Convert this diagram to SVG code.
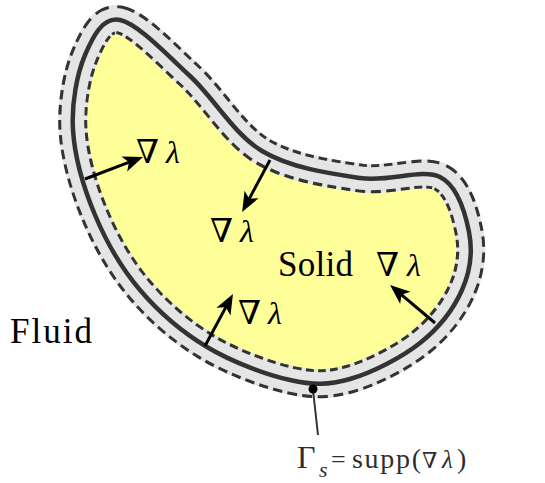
<svg xmlns="http://www.w3.org/2000/svg" width="545" height="483" viewBox="0 0 545 483">
  <defs>
    <path id="boundary" d="M120,20 C137.5,23.5 166.3,54.2 190,76 C213.7,97.8 233.7,134 262,151 C290.3,168 330.3,173.7 360,178 C389.7,182.3 421.8,168 440,177 C458.2,186 465.3,213.2 469,232 C472.7,250.8 470.2,271.5 462,290 C453.8,308.5 438.7,328.2 420,343 C401.3,357.8 371.7,372.8 350,379 C328.3,385.2 313.8,385.3 290,380 C266.2,374.7 232,362 207,347 C182,332 158.7,312 140,290 C121.3,268 106.2,241.7 95,215 C83.8,188.3 74.7,156.7 73,130 C71.3,103.3 77.2,73.3 85,55 C92.8,36.7 102.5,16.5 120,20 Z"/>
    <marker id="arrowhead" markerUnits="userSpaceOnUse" orient="auto" viewBox="-21 -9 22 18" markerWidth="22" markerHeight="18" refX="-9" refY="0">
      <path d="M0,0 L-20,-8 L-15,0 L-20,8 Z" fill="#000"/>
    </marker>
    <style>
      .lbl { font-family: "Liberation Serif", "DejaVu Serif", serif; fill: #000; }
      .nabla { font-family: "DejaVu Serif", "Liberation Serif", serif; font-size: 33px; fill: #000; }
      .lam { font-family: "Liberation Serif", "DejaVu Serif", serif; font-style: italic; font-size: 32px; fill: #000; }
      .arrow { stroke: #000; stroke-width: 3; fill: none; marker-end: url(#arrowhead); }
      .gm { font-family: "Liberation Serif", "DejaVu Serif", serif; fill: #2e2e2e; }
    </style>
  </defs>

  <g id="solid-region">
    <use href="#boundary" fill="#ffff99" stroke="#e5e5e5" stroke-width="29"/>
    <use href="#boundary" fill="none" stroke="#333" stroke-width="29" stroke-dasharray="9 5"/>
    <use href="#boundary" fill="none" stroke="#e5e5e5" stroke-width="23"/>
    <use href="#boundary" fill="none" stroke="#333" stroke-width="4.5"/>
  </g>

  <g id="connectors">
    <line class="arrow" x1="85" y1="179" x2="134.6" y2="160.2"/>
    <line class="arrow" x1="270" y1="160" x2="246.4" y2="204.1"/>
    <line class="arrow" x1="205" y1="346" x2="228.7" y2="301.9"/>
    <line class="arrow" x1="435" y1="323" x2="396.9" y2="290.8"/>
    <line x1="313" y1="390" x2="318" y2="435" stroke="#333" stroke-width="2"/>
    <circle cx="313" cy="389" r="4.5" fill="#000"/>
  </g>

  <g id="label-grad-1">
    <text class="nabla" x="136" y="163">∇</text>
    <text class="lam" x="166" y="163">λ</text>
  </g>
  <g id="label-grad-2">
    <text class="nabla" x="210" y="242">∇</text>
    <text class="lam" x="240" y="242">λ</text>
  </g>
  <g id="label-grad-3">
    <text class="nabla" x="238" y="324">∇</text>
    <text class="lam" x="268" y="324">λ</text>
  </g>
  <g id="label-grad-4">
    <text class="nabla" x="376" y="276">∇</text>
    <text class="lam" x="407" y="276">λ</text>
  </g>

  <g id="label-solid">
    <text class="lbl" x="278" y="276" font-size="35" textLength="75" lengthAdjust="spacing">Solid</text>
  </g>
  <g id="label-fluid">
    <text class="lbl" x="10" y="343" font-size="35" textLength="82" lengthAdjust="spacing">Fluid</text>
  </g>

  <g id="label-gamma">
    <text class="gm" x="297" y="468" font-size="32">Γ</text>
    <text class="gm" x="319" y="477" font-size="22" font-style="italic">s</text>
    <text class="gm" x="331" y="468" font-size="26">=</text>
    <text class="gm" x="352" y="468" font-size="28" textLength="69" lengthAdjust="spacing">supp(</text>
    <text class="gm" x="422" y="468" font-size="22" font-family="DejaVu Serif, serif">∇</text>
    <text class="gm" x="442" y="468" font-size="25" font-style="italic">λ</text>
    <text class="gm" x="457" y="468" font-size="28">)</text>
  </g>
</svg>
